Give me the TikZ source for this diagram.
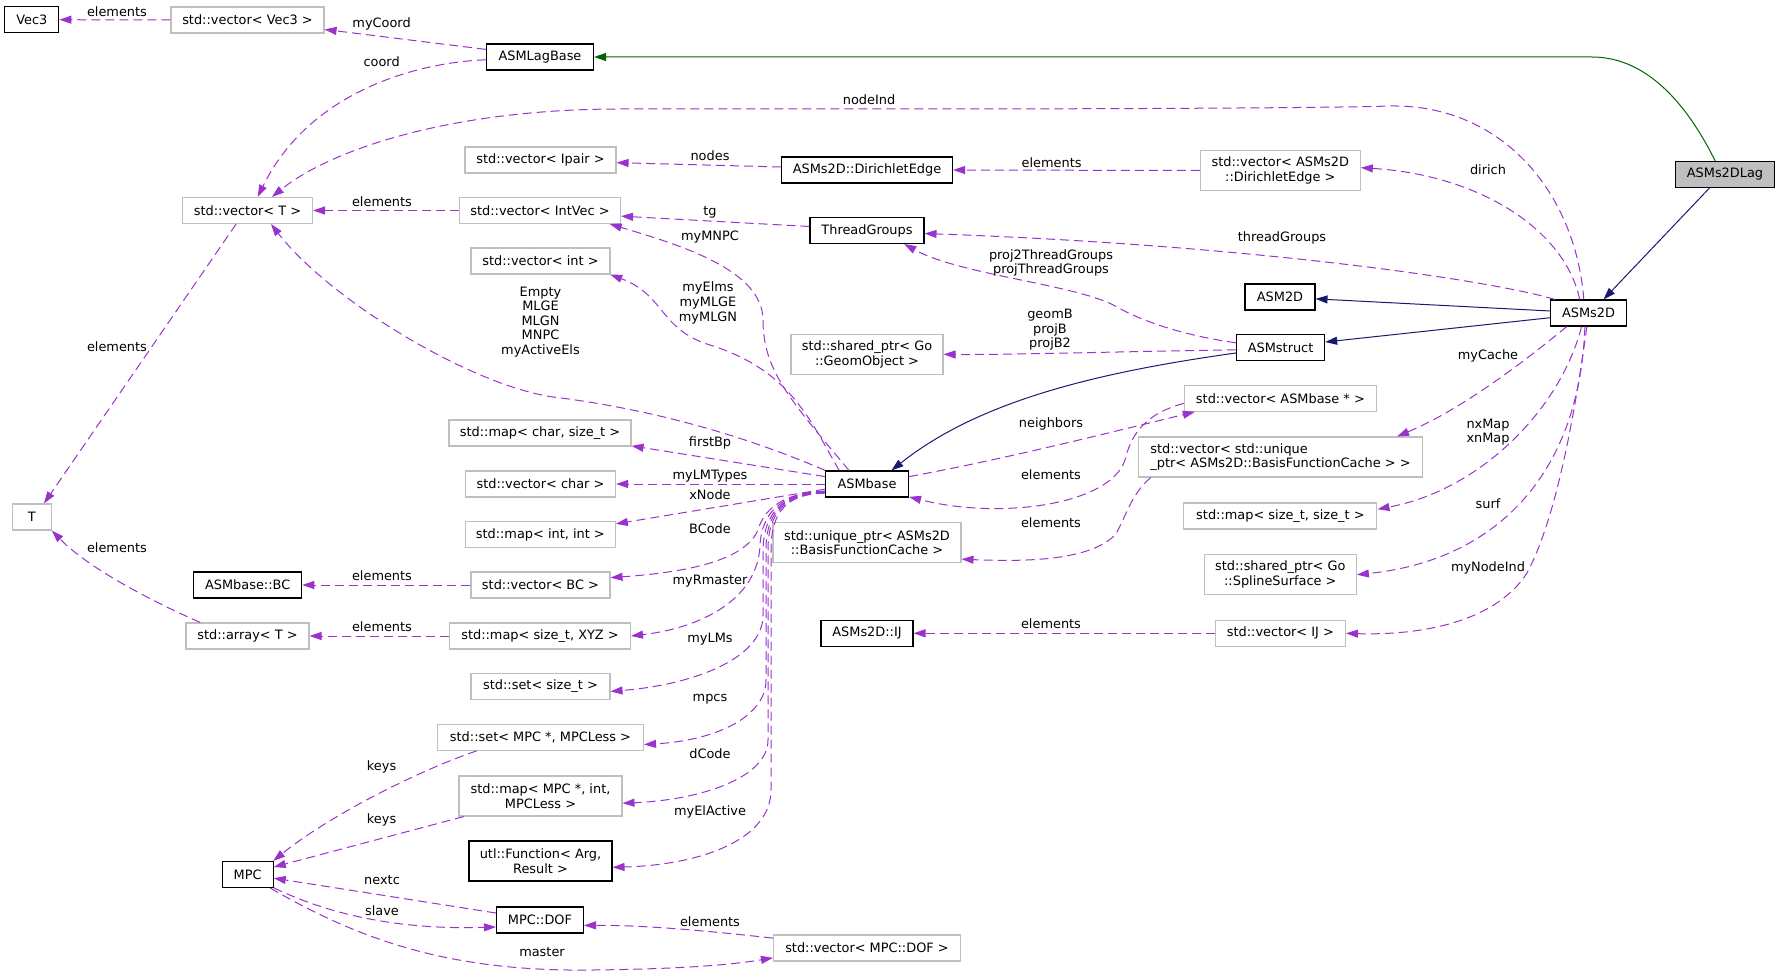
\documentclass[tikz,border=0pt]{standalone}
\usepackage{fontspec}
\setmainfont{DejaVu Sans}
\usetikzlibrary{arrows.meta}
\definecolor{usecol}{HTML}{9A32CD}
\definecolor{pubcol}{HTML}{191970}
\definecolor{protcol}{HTML}{006400}
\definecolor{undoccol}{HTML}{BFBFBF}
\newcommand{\dgfont}{\fontsize{12.9}{14.6}\selectfont}
\tikzstyle{cls} = [rectangle, draw=black, line width=1.1pt, inner sep=0pt,
  minimum height=26pt, align=center, font=\dgfont]
\tikzstyle{undoc} = [cls, draw=undoccol]
\tikzstyle{lbl} = [inner sep=0pt, align=center, font=\dgfont]
\tikzstyle{uses} = [draw=usecol, line width=1pt, dash pattern=on 9pt off 5pt,
  -{Triangle[length=12pt, width=8pt]}]
\tikzstyle{pubinh} = [draw=pubcol, line width=1pt, -{Triangle[length=12pt, width=8pt]}]
\tikzstyle{protinh} = [pubinh, draw=protcol]

\begin{document}
\begin{tikzpicture}[x=1pt, y=-1pt]
  \useasboundingbox (0,0) rectangle (1780,976);

  % column 1
  \node[cls, minimum width=54pt] (vec3) at (31.8,19.7) {Vec3};
  \node[undoc, minimum width=39pt] (tnode) at (31.8,517) {T};
  % column 2
  \node[undoc, minimum width=153pt] (vecvec3) at (247.5,20) {std::vector< Vec3 >};
  \node[undoc, minimum width=130pt] (vect) at (247.5,210.5) {std::vector< T >};
  \node[cls, minimum width=108pt] (bc) at (247.7,585) {ASMbase::BC};
  \node[undoc, minimum width=123pt] (arrayt) at (247.5,636) {std::array< T >};
  \node[cls, minimum width=51pt] (mpc) at (247.7,874.5) {MPC};
  % column 3
  \node[cls, minimum width=107pt] (lagbase) at (540,57) {ASMLagBase};
  \node[undoc, minimum width=151pt] (vecipair) at (540.5,160) {std::vector< Ipair >};
  \node[undoc, minimum width=161pt] (vecintvec) at (540,210.5) {std::vector< IntVec >};
  \node[undoc, minimum width=139pt] (vecint) at (540.5,261) {std::vector< int >};
  \node[undoc, minimum width=182pt] (mapchar) at (540,433) {std::map< char, size\_t >};
  \node[undoc, minimum width=150pt] (vecchar) at (540.5,484) {std::vector< char >};
  \node[undoc, minimum width=150pt] (mapint) at (540.3,534.5) {std::map< int, int >};
  \node[undoc, minimum width=139pt] (vecbc) at (540.5,585) {std::vector< BC >};
  \node[undoc, minimum width=181pt] (mapxyz) at (540,636) {std::map< size\_t, XYZ >};
  \node[undoc, minimum width=139pt] (setsize) at (540.5,686.5) {std::set< size\_t >};
  \node[undoc, minimum width=206pt] (setmpc) at (540.5,737.3) {std::set< MPC *, MPCLess >};
  \node[undoc, minimum width=163pt, minimum height=40pt] (mapmpc) at (540.5,796) {std::map< MPC *, int,\\MPCLess >};
  \node[cls, minimum width=143pt, minimum height=40pt] (func) at (540.5,861) {utl::Function< Arg,\\Result >};
  \node[cls, minimum width=87pt] (dof) at (540,920) {MPC::DOF};
  % column 4
  \node[cls, minimum width=171pt] (diredge) at (867,170) {ASMs2D::DirichletEdge};
  \node[cls, minimum width=114pt] (threadgroups) at (867,230.5) {ThreadGroups};
  \node[undoc, minimum width=152pt, minimum height=40pt] (geomobj) at (867,354.3) {std::shared\_ptr< Go\\::GeomObject >};
  \node[cls, minimum width=83pt] (asmbase) at (867,484) {ASMbase};
  \node[undoc, minimum width=188pt, minimum height=40pt] (bfcache) at (867,542.5) {std::unique\_ptr< ASMs2D\\::BasisFunctionCache >};
  \node[cls, minimum width=92pt] (ij) at (867,633.3) {ASMs2D::IJ};
  \node[undoc, minimum width=187pt] (vecdof) at (867,948) {std::vector< MPC::DOF >};
  % column 5
  \node[undoc, minimum width=160pt, minimum height=40pt] (vecdiredge) at (1280.3,170.5) {std::vector< ASMs2D\\::DirichletEdge >};
  \node[cls, minimum width=70pt] (asm2d) at (1280,297) {ASM2D};
  \node[cls, minimum width=88pt] (asmstruct) at (1280.6,347.5) {ASMstruct};
  \node[undoc, minimum width=192pt] (vecasmbase) at (1280.4,398.3) {std::vector< ASMbase * >};
  \node[undoc, minimum width=284pt, minimum height=40pt, align=left] (vecbfcache) at (1280.5,457) {std::vector< std::unique\\\_ptr< ASMs2D::BasisFunctionCache > >};
  \node[undoc, minimum width=193pt] (mapsize) at (1280.4,516) {std::map< size\_t, size\_t >};
  \node[undoc, minimum width=152pt, minimum height=40pt] (splinesurf) at (1280.3,574.7) {std::shared\_ptr< Go\\::SplineSurface >};
  \node[undoc, minimum width=130pt] (vecij) at (1280.4,633.3) {std::vector< IJ >};
  % columns 6 and 7
  \node[cls, minimum width=76pt] (asms2d) at (1588.5,313) {ASMs2D};
  \node[cls, minimum width=99pt, fill=undoccol] (lag2d) at (1725,174.5) {ASMs2DLag};

  % inheritance
  \draw[protinh] (lag2d.126) .. controls (1690,110) and (1650,57) .. (1592,57) -- (lagbase.east);
  \draw[pubinh] (lag2d.221) -- (asms2d.42);
  \draw[pubinh] (asms2d.177) -- (asm2d.357);
  \draw[pubinh] (asms2d.187) -- (asmstruct.7);
  \draw[pubinh] (asmstruct.187) .. controls (1100,372) and (980,400) .. (asmbase.29);

  % usage, top part
  \draw[uses] (vecvec3.west) -- (vec3.east);
  \draw[uses] (lagbase.172) -- (vecvec3.353);
  \draw[uses] (lagbase.183) .. controls (420,62) and (310,90) .. (vect.53);
  \draw[uses] (asms2d.109) .. controls (1575,190) and (1500,104) .. (1390,106)
    .. controls (1330,108) and (1100,109) .. (900,109) -- (620,109)
    .. controls (450,109) and (330,150) .. (vect.29);
  \draw[uses] (diredge.178) -- (vecipair.358);
  \draw[uses] (vecdiredge.west) -- (diredge.east);
  \draw[uses] (asms2d.123) .. controls (1565,230) and (1480,175) .. (vecdiredge.2);
  \draw[uses] (vecintvec.west) -- (vect.east);
  \draw[uses] (threadgroups.176) -- (vecintvec.356);
  \draw[uses] (asmbase.143) .. controls (790,400) and (763,370) .. (763,320)
    .. controls (763,270) and (680,245) .. (vecintvec.349);
  \draw[uses] (asms2d.158) .. controls (1490,280) and (1250,245) .. (threadgroups.357);
  \draw[uses] (asmstruct.174) .. controls (1180,335) and (1140,320) .. (1117,307)
    .. controls (1080,285) and (960,275) .. (threadgroups.340);
  \draw[uses] (asmbase.154) .. controls (810,420) and (790,370) .. (710,345)
    .. controls (660,330) and (665,295) .. (vecint.349);
  \draw[uses] (asmbase.162) .. controls (720,425) and (620,405) .. (553,397)
    .. controls (470,385) and (330,300) .. (vect.330);
  \draw[uses] (asmstruct.183) .. controls (1100,352) and (1000,355) .. (geomobj.east);
  \draw[uses] (vect.230) -- (tnode.48);
  \draw[uses] (arrayt.164) .. controls (160,605) and (90,570) .. (tnode.326);

  % usage, ASMbase fan
  \draw[uses] (asmbase.170) -- (mapchar.352);
  \draw[uses] (asmbase.west) -- (vecchar.east);
  \draw[uses] (asmbase.187) -- (mapint.8);
  \draw[uses] (asmbase.190) .. controls (790,492) and (765,505) .. (758,530)
    .. controls (745,560) and (690,572) .. (vecbc.6);
  \draw[uses] (asmbase.190) .. controls (785,492) and (762,510) .. (760,545)
    .. controls (758,600) and (700,628) .. (mapxyz.east);
  \draw[uses] (asmbase.191) .. controls (785,493) and (764,510) .. (763,550) -- (763,615)
    .. controls (763,660) and (690,685) .. (setsize.356);
  \draw[uses] (asmbase.191) .. controls (786,493) and (766,510) .. (766,550) -- (766,680)
    .. controls (766,715) and (720,740) .. (setmpc.356);
  \draw[uses] (asmbase.192) .. controls (787,494) and (768,510) .. (768,550) -- (768,740)
    .. controls (768,778) and (700,800) .. (mapmpc.355);
  \draw[uses] (asmbase.192) .. controls (788,494) and (771,510) .. (771,550) -- (771,790)
    .. controls (771,840) and (700,865) .. (func.355);

  % usage, right part
  \draw[uses] (asmbase.10) .. controls (1000,460) and (1100,435) .. (vecasmbase.189);
  \draw[uses] (vecasmbase.183) .. controls (1140,415) and (1130,440) .. (1125,460)
    .. controls (1110,505) and (1000,520) .. (asmbase.343);
  \draw[uses] (vecbfcache.189) .. controls (1130,495) and (1125,520) .. (1115,535)
    .. controls (1090,560) and (1030,562) .. (bfcache.350);
  \draw[uses] (asms2d.212) .. controls (1520,365) and (1460,410) .. (vecbfcache.10);
  \draw[uses] (asms2d.243) .. controls (1560,410) and (1480,490) .. (mapsize.4);
  \draw[uses] (asms2d.255) .. controls (1580,470) and (1500,560) .. (splinesurf.east);
  \draw[uses] (asms2d.263) .. controls (1570,450) and (1550,530) .. (1527,573)
    .. controls (1490,630) and (1400,635) .. (vecij.east);
  \draw[uses] (vecij.west) -- (ij.east);
  \draw[uses] (vecbc.west) -- (bc.east);
  \draw[uses] (mapxyz.west) -- (arrayt.east);

  % usage, MPC part
  \draw[uses] (setmpc.192) .. controls (420,770) and (330,815) .. (mpc.28);
  \draw[uses] (mapmpc.195) -- (mpc.16);
  \draw[uses] (dof.171) -- (mpc.352);
  \draw[uses] (mpc.333) .. controls (330,915) and (400,930) .. (dof.189);
  \draw[uses] (mpc.329) .. controls (360,940) and (450,972) .. (593,970)
    .. controls (680,969) and (730,965) .. (vecdof.186);
  \draw[uses] (vecdof.174) .. controls (700,930) and (640,925) .. (dof.353);

  % edge labels
  \node[lbl] (lvec3) at (117,12) {elements};
  \node[lbl] (lmycoord) at (381.6,24) {myCoord};
  \node[lbl] (lcoord) at (381.6,62) {coord};
  \node[lbl] (lnodeind) at (869,100) {nodeInd};
  \node[lbl] (lnodes) at (710,156) {nodes};
  \node[lbl] (ldirel) at (1051.6,163) {elements};
  \node[lbl] (ldirich) at (1488,170) {dirich};
  \node[lbl] (lvectel) at (382,202) {elements};
  \node[lbl] (ltg) at (710,212) {tg};
  \node[lbl] (lmymnpc) at (710,237) {myMNPC};
  \node[lbl] (lthreadgroups) at (1282,238) {threadGroups};
  \node[lbl] (lprojtg) at (1051,263) {proj2ThreadGroups\\projThreadGroups};
  \node[lbl] (lmyelms) at (708,303) {myElms\\myMLGE\\myMLGN};
  \node[lbl] (lgeomb) at (1050,330) {geomB\\projB\\projB2};
  \node[lbl] (lempty) at (540.5,322) {Empty\\MLGE\\MLGN\\MNPC\\myActiveEls};
  \node[lbl] (ltel) at (117,347) {elements};
  \node[lbl] (lmycache) at (1488,356) {myCache};
  \node[lbl] (lneighbors) at (1051,424) {neighbors};
  \node[lbl] (lnxmap) at (1488,432) {nxMap\\xnMap};
  \node[lbl] (lfirstbp) at (710,443) {firstBp};
  \node[lbl] (lmylmtypes) at (710,476) {myLMTypes};
  \node[lbl] (lasmel) at (1051,475) {elements};
  \node[lbl] (lxnode) at (710,495) {xNode};
  \node[lbl] (lsurf) at (1488,504) {surf};
  \node[lbl] (lbfel) at (1051,523) {elements};
  \node[lbl] (lbcode) at (710,529) {BCode};
  \node[lbl] (larrel) at (117,548) {elements};
  \node[lbl] (lmynodeind) at (1488,568) {myNodeInd};
  \node[lbl] (lbcel) at (382,576) {elements};
  \node[lbl] (lmyrmaster) at (710,581) {myRmaster};
  \node[lbl] (lijel) at (1051,624) {elements};
  \node[lbl] (lxyzel) at (382,627) {elements};
  \node[lbl] (lmylms) at (710,639) {myLMs};
  \node[lbl] (lmpcs) at (710,699) {mpcs};
  \node[lbl] (ldcode) at (710,754) {dCode};
  \node[lbl] (lkeysa) at (381.6,767) {keys};
  \node[lbl] (lmyelactive) at (710,812) {myElActive};
  \node[lbl] (lkeysb) at (381.6,820) {keys};
  \node[lbl] (lnextc) at (382,880) {nextc};
  \node[lbl] (lslave) at (382,911) {slave};
  \node[lbl] (ldofel) at (710,922) {elements};
  \node[lbl] (lmaster) at (542,952) {master};
\end{tikzpicture}
\end{document}
